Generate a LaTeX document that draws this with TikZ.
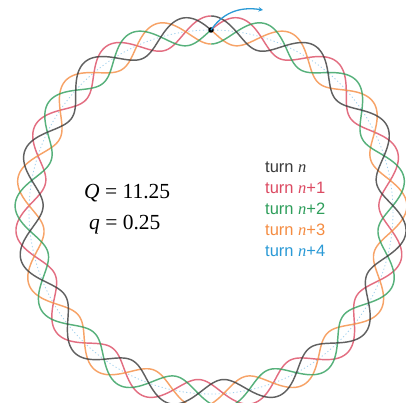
\documentclass[tikz,border=0pt]{standalone}
\usepackage{fontspec}
\setmainfont{Liberation Serif}
\setsansfont{Liberation Sans}
\usetikzlibrary{arrows.meta}
\definecolor{cN}{HTML}{3A3A3A}
\definecolor{cA}{HTML}{DC4A62}
\definecolor{cB}{HTML}{2E9E5B}
\definecolor{cC}{HTML}{F58C42}
\definecolor{cD}{HTML}{2B9AD6}
\definecolor{cRef}{HTML}{9FD0EE}
\tikzset{
  turnline/.style={line width=1.45pt, opacity=0.8},
  legend/.style={anchor=west, inner sep=0pt, font=\sffamily\fontsize{16.5}{18}\selectfont},
  big/.style={anchor=west, inner sep=0pt, font=\fontsize{21.5}{24}\selectfont}
}
\newcommand{\nvar}{\textit{\rmfamily n}}
\begin{document}
\begin{tikzpicture}[x=1pt,y=-1pt]
\useasboundingbox (0,0) rectangle (406,403);
\fill[white] (0,0) rectangle (406,403);
% reference orbit
\draw[cRef, line width=0.8pt, dash pattern=on 1.2pt off 2.4pt] (211,212) circle[radius=182];
% turns
\foreach \k/\col in {1/cA,3/cC,2/cB,0/cN}{
  \draw[\col, turnline] plot[domain=0:360, samples=900, smooth, variable=\t]
    ({211-(182+14*sin(11.25*\t+90*\k))*sin(\t)}, {212-(182+14*sin(11.25*\t+90*\k))*cos(\t)});
}
% start point and next turn
\node[circle, fill=black, inner sep=0pt, minimum size=5.5pt] (dot) at (211,30) {};
\coordinate (arrEnd) at (263,10);
\draw[cD, line width=1.3pt, -{Stealth[length=4.5pt,width=4.5pt]}] (dot.center) .. controls (222,14) and (238,6) .. (arrEnd);
% tune labels
\node[big] (Q) at (84,193) {\textit{Q} = 11.25};
\node[big] (q) at (89,225) {\textit{q} = 0.25};
% legend
\node[legend, text=cN] (l0) at (265,167) {turn \nvar};
\node[legend, text=cA] (l1) at (265,188) {turn \nvar+1};
\node[legend, text=cB] (l2) at (265,209) {turn \nvar+2};
\node[legend, text=cC] (l3) at (265,230) {turn \nvar+3};
\node[legend, text=cD] (l4) at (265,251) {turn \nvar+4};
\end{tikzpicture}
\end{document}
